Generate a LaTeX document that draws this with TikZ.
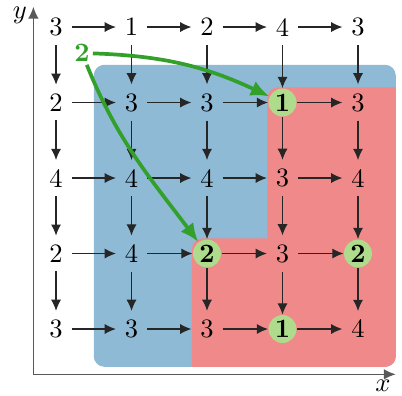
\documentclass[tikz,border=0pt]{standalone}
\usetikzlibrary{arrows.meta}
\definecolor{bluebg}{RGB}{142,186,214}
\definecolor{redbg}{RGB}{240,138,138}
\definecolor{greenc}{RGB}{174,220,140}
\definecolor{greena}{RGB}{51,160,44}
\tikzset{
  val/.style={inner sep=3.2pt},
  hit/.style={circle,fill=greenc,minimum size=0.37cm,inner sep=0pt,font=\bfseries},
  c13/.style={hit}, c32/.style={hit}, c34/.style={hit}, c43/.style={hit},
  edge/.style={-{Latex[length=4.2pt,width=3.8pt]},line width=0.45pt,black!85},
  axis/.style={-{Latex[length=4.5pt,width=4pt]},line width=0.6pt,black!65},
  garrow/.style={-{Latex[length=7pt,width=6pt]},line width=1.4pt,greena},
}
\begin{document}
\begin{tikzpicture}
\useasboundingbox (-0.742,-0.887) rectangle (4.583,4.358);
% backgrounds
\fill[bluebg,rounded corners=4pt] (0.5,-0.5) rectangle (4.5,3.5);
\begin{scope}
\clip[rounded corners=4pt] (0.5,-0.5) rectangle (4.5,3.5);
\fill[redbg,rounded corners=4pt] (2.8,-1) rectangle (5,3.2);
\fill[redbg,rounded corners=4pt] (1.8,-1) rectangle (5,1.2);
\end{scope}
% axes
\coordinate (o) at (-0.3,-0.6);
\coordinate (xe) at (4.5,-0.6);
\coordinate (ye) at (-0.3,4.27);
\draw[axis] (o) -- (xe);
\draw[axis] (o) -- (ye);
\node (xl) at (4.33,-0.75) {$x$};
\node (yl) at (-0.48,4.16) {$y$};
% grid values
\foreach \row/\vals in {0/{3,1,2,4,3},1/{2,3,3,1,3},2/{4,4,4,3,4},3/{2,4,2,3,2},4/{3,3,3,1,4}}{
  \foreach \v [count=\c from 0] in \vals {
    \node[val,c\row\c/.try] (n\row\c) at (\c,4-\row) {\v};
  }
}
% arrows
\foreach \r in {0,...,4}{
  \foreach \c [evaluate=\c as \d using int(\c+1)] in {0,...,3}{
    \draw[edge] (n\r\c) -- (n\r\d);
  }
}
\foreach \r [evaluate=\r as \s using int(\r+1)] in {0,...,3}{
  \foreach \c in {0,...,4}{
    \draw[edge] (n\r\c) -- (n\s\c);
  }
}
% green label and arrows
\node[text=greena,font=\bfseries,inner sep=1pt] (g) at (0.344,3.656) {2};
\draw[garrow] (g) to[out=-2,in=155] (n13);
\draw[garrow] (g) to[out=-68,in=127] (n32);
\end{tikzpicture}
\end{document}
